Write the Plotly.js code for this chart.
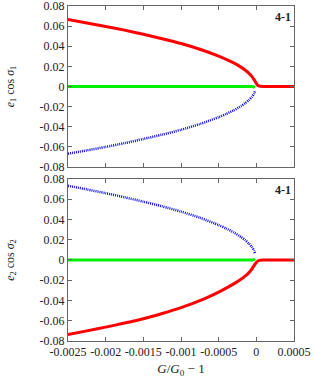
<!DOCTYPE html>
<html>
<head>
<meta charset="utf-8">
<script src="https://cdn.plot.ly/plotly-3.0.1.min.js"></script>
<style>html,body{margin:0;padding:0;background:#fff;}#chart{width:314px;height:378px;}</style>
</head>
<body>
<div id="chart"></div>
<script>
// x values (G/G0 - 1)
var xFull = [-0.0025,-0.00225,-0.002,-0.00175,-0.0015,-0.00125,-0.001,-0.00075,-0.0005,-0.0004,-0.0003,-0.0002,-0.00015,-0.0001,-0.00006,-0.00003,0,0.00002,0.00005,0.0001,0.0005];
var xBranch = [-0.0025,-0.00225,-0.002,-0.00175,-0.0015,-0.00125,-0.001,-0.00075,-0.0005,-0.0004,-0.0003,-0.0002,-0.00015,-0.0001,-0.00006,-0.00003,-0.00002];

// top panel: e1 cos sigma1
var topRed   = [0.0665,0.0632,0.0597,0.0560,0.0519,0.0475,0.0427,0.0370,0.0302,0.0270,0.0234,0.0190,0.0164,0.0133,0.0100,0.0068,0.0030,0.0010,0.0003,0.0001,0.0];
var topBlue  = [-0.0668,-0.0635,-0.0600,-0.0563,-0.0522,-0.0478,-0.0430,-0.0373,-0.0305,-0.0273,-0.0237,-0.0193,-0.0167,-0.0136,-0.0104,-0.0070,-0.0048];
var topGreen = [0,0,0,0,0,0,0,0,0,0,0,0,0,0,-0.0001,-0.0004,-0.0012];

// bottom panel: e2 cos sigma2
var botRed   = [-0.0735,-0.0700,-0.0663,-0.0623,-0.0580,-0.0528,-0.0470,-0.0402,-0.0317,-0.0278,-0.0236,-0.0187,-0.0160,-0.0127,-0.0090,-0.0055,-0.0025,-0.0009,-0.0002,-0.00005,0.0];
var botBlue  = [0.0733,0.0697,0.0660,0.0620,0.0576,0.0530,0.0478,0.0418,0.0345,0.0311,0.0273,0.0225,0.0197,0.0163,0.0128,0.0093,0.0068];
var botGreen = [0,0,0,0,0,0,0,0,0,0,0,0,0,0,0.0001,0.0004,0.0012];

var xTickVals = [-0.0025,-0.002,-0.0015,-0.001,-0.0005,0,0.0005];
var xTickText = ['-0.0025','-0.002','-0.0015','-0.001','-0.0005','0','0.0005'];
var yTickVals = [-0.08,-0.06,-0.04,-0.02,0,0.02,0.04,0.06,0.08];
var yTickText = ['-0.08','-0.06','-0.04','-0.02','0','0.02','0.04','0.06','0.08'];
var panelLabel = '4-1';

var RED='#ff0000', GREEN='#00ee00', BLUE='#1010ee';
function tr(x,y,c,w,dash,xa,ya){
  return {x:x,y:y,xaxis:xa,yaxis:ya,mode:'lines',type:'scatter',
    line:{color:c,width:w,dash:dash||'solid',shape:'spline',smoothing:0.6},hoverinfo:'skip',showlegend:false};
}
var data = [
  tr(xFull,topRed,RED,3,null,'x2','y2'),
  tr(xBranch,topGreen,GREEN,3,null,'x2','y2'),
  tr(xBranch,topBlue,BLUE,2.5,'1px,1px','x2','y2'),
  tr(xFull,botRed,RED,3,null,'x','y'),
  tr(xBranch,botGreen,GREEN,3,null,'x','y'),
  tr(xBranch,botBlue,BLUE,2.5,'1px,1px','x','y')
];
var font = {family:'"Liberation Serif", "Times New Roman", serif', size:12, color:'#222'};
var titleFont = {family:'"Liberation Serif", "Times New Roman", serif', size:13, color:'#222'};
var axBase = {showline:true, mirror:'ticks', linecolor:'#666', linewidth:1, ticks:'inside', ticklen:4, tickcolor:'#666',
  zeroline:false, showgrid:false, tickfont:font, automargin:false, ticklabeloverflow:'allow'};
function xa(extra){return Object.assign({}, axBase, {range:[-0.0025,0.0005], tickmode:'array', tickvals:xTickVals, ticktext:xTickText}, extra);}
function ya(extra){return Object.assign({}, axBase, {range:[-0.08,0.08], tickmode:'array', tickvals:yTickVals, ticktext:yTickText}, extra);}
var layout = {
  width:314, height:378,
  margin:{l:68, r:20, t:6, b:37},
  paper_bgcolor:'#fff', plot_bgcolor:'#fff',
  font:font,
  xaxis: xa({anchor:'y', domain:[0,1], title:{text:'<i>G</i>/<i>G</i><sub>0</sub> − 1', font:titleFont, standoff:14}}),
  yaxis: ya({anchor:'x', domain:[0,0.4836], title:{text:'<i>e</i><sub>2</sub> cos <i>σ</i><sub>2</sub>', font:font, standoff:22}}),
  xaxis2: xa({anchor:'y2', domain:[0,1], showticklabels:false}),
  yaxis2: ya({anchor:'x2', domain:[0.5194,1], title:{text:'<i>e</i><sub>1</sub> cos <i>σ</i><sub>1</sub>', font:font, standoff:22}}),
  annotations:[
    {xref:'x2 domain', yref:'y2 domain', x:0.995, y:0.985, xanchor:'right', yanchor:'top', showarrow:false,
     text:'<b>'+panelLabel+'</b>', font:Object.assign({},font,{size:12})},
    {xref:'x domain', yref:'y domain', x:0.995, y:0.985, xanchor:'right', yanchor:'top', showarrow:false,
     text:'<b>'+panelLabel+'</b>', font:Object.assign({},font,{size:12})}
  ]
};
Plotly.newPlot('chart', data, layout, {staticPlot:true, displayModeBar:false});
</script>
</body>
</html>
